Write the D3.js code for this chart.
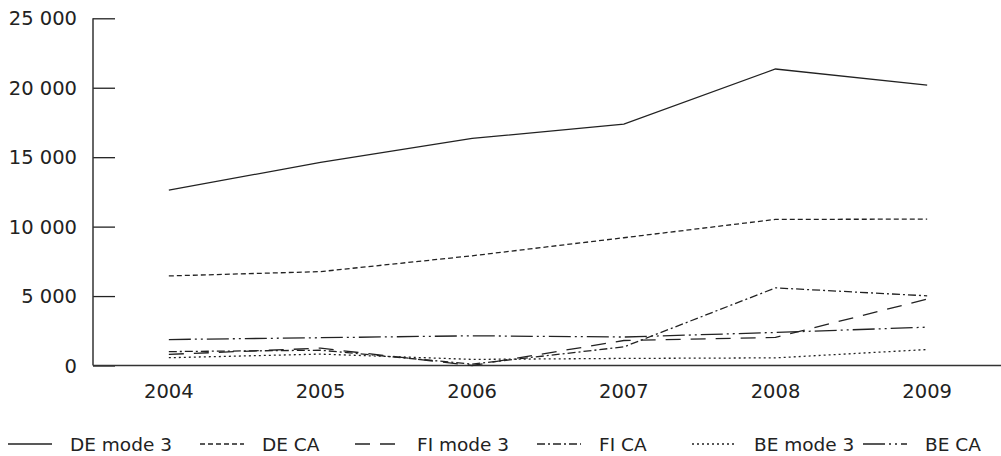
<!DOCTYPE html>
<html>
<head>
<meta charset="utf-8">
<script src="https://cdn.jsdelivr.net/npm/d3@7"></script>
<style>
  html, body { margin: 0; padding: 0; background: #fff; }
  svg { display: block; }
  text { font-family: "DejaVu Sans", sans-serif; fill: #222; }
</style>
</head>
<body>
<svg id="chart" width="1001" height="456"></svg>
<script>
const years = ["2004", "2005", "2006", "2007", "2008", "2009"];
const deMode3 = [12630, 14625, 16350, 17385, 21350, 20195];
const deCA    = [6450, 6760, 7900, 9200, 10520, 10540];
const fiMode3 = [800, 1250, 0, 1800, 2020, 4780];
const fiCA    = [1000, 1100, 100, 1340, 5590, 5015];
const beMode3 = [560, 820, 440, 510, 550, 1150];
const beCA    = [1870, 2000, 2140, 2050, 2380, 2760];
const yTicks  = [0, 5000, 10000, 15000, 20000, 25000];
const seriesNames = ["DE mode 3", "DE CA", "FI mode 3", "FI CA", "BE mode 3", "BE CA"];

const series = [
  { name: seriesNames[0], values: deMode3, dash: null },
  { name: seriesNames[1], values: deCA,    dash: "5,3" },
  { name: seriesNames[2], values: fiMode3, dash: "15,10" },
  { name: seriesNames[3], values: fiCA,    dash: "8,3,2,3" },
  { name: seriesNames[4], values: beMode3, dash: "2,3" },
  { name: seriesNames[5], values: beCA,    dash: "22,4,2,4,2,4" }
];

const svg = d3.select("#chart");
const x0 = 93, x1 = 1003, yTop = 18.3, yBot = 365.5;

const x = d3.scaleBand().domain(years).range([x0, x1]);
const y = d3.scaleLinear().domain([0, 25000]).range([yBot, yTop]);

const fmt = v => d3.format(",")(v).replace(/,/g, "\u2009").replace(/\u2009/g, " ");

// Y axis (ticks pointing inward)
const yAxis = svg.append("g").attr("transform", `translate(${x0},0)`)
  .call(d3.axisRight(y).tickValues(yTicks).tickSize(22).tickFormat(""));
yAxis.select(".domain").remove();
yAxis.selectAll(".tick line").attr("stroke", "#222").attr("stroke-width", 1.3);
svg.append("line").attr("x1", x0).attr("x2", x0).attr("y1", y(25000)).attr("y2", yBot)
  .attr("stroke", "#333").attr("stroke-width", 1.5);

svg.append("g").selectAll("text").data(yTicks).join("text")
  .attr("x", x0 - 16).attr("y", d => y(d)).attr("dy", "0.36em")
  .attr("text-anchor", "end").style("font-size", "19.5px")
  .text(d => fmt(d));

// X axis
svg.append("line").attr("x1", x0).attr("x2", 1001).attr("y1", yBot).attr("y2", yBot)
  .attr("stroke", "#333").attr("stroke-width", 1.5);
svg.append("g").selectAll("text").data(years).join("text")
  .attr("x", d => x(d) + x.bandwidth() / 2).attr("y", yBot + 25).attr("dy", "0.36em")
  .attr("text-anchor", "middle").style("font-size", "19.5px")
  .text(d => d);

// Lines
const line = d3.line()
  .x((d, i) => x(years[i]) + x.bandwidth() / 2)
  .y(d => y(d));

svg.append("g").selectAll("path").data(series).join("path")
  .attr("d", d => line(d.values))
  .attr("fill", "none")
  .attr("stroke", "#222")
  .attr("stroke-width", 1.3)
  .attr("stroke-dasharray", d => d.dash);

// Legend
const legX = [8, 200, 355, 537, 692, 863];
const legY = 444;
const leg = svg.append("g").selectAll("g").data(series).join("g")
  .attr("transform", (d, i) => `translate(${legX[i]},${legY})`);
leg.append("line").attr("x1", 0).attr("x2", 44).attr("y1", 0).attr("y2", 0)
  .attr("stroke", "#222").attr("stroke-width", 1.3)
  .attr("stroke-dasharray", d => d.dash);
leg.append("text").attr("x", 62).attr("y", 0).attr("dy", "0.36em")
  .style("font-size", "18.5px").text(d => d.name);
</script>
</body>
</html>
